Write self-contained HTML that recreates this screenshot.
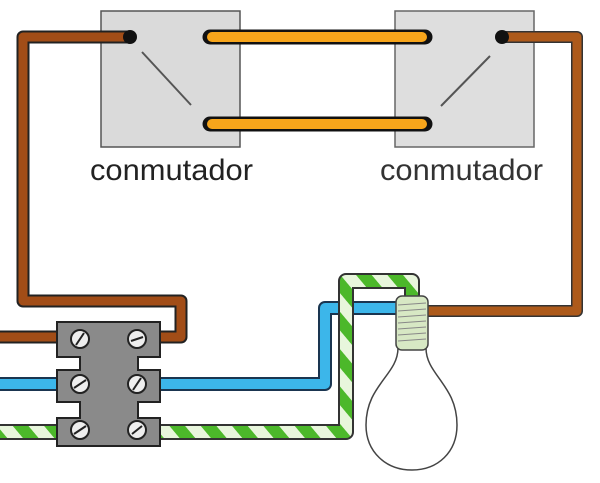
<!DOCTYPE html>
<html><head><style>body{margin:0;background:#fff}svg{display:block}</style></head>
<body>
<svg width="600" height="483" viewBox="0 0 600 483" xmlns="http://www.w3.org/2000/svg">
<defs>
<pattern id="st" width="24" height="24" patternUnits="userSpaceOnUse" patternTransform="rotate(-40)">
<rect width="24" height="24" fill="#e8f6dc"/><rect width="12" height="24" fill="#4cb82a"/>
</pattern>
</defs>
<!-- switch boxes -->
<rect x="101" y="11" width="139" height="136" fill="#dadada" stroke="#555" stroke-width="1.5"/>
<rect x="395" y="11" width="139" height="136" fill="#dedede" stroke="#666" stroke-width="1.5"/>
<line x1="142" y1="52" x2="191" y2="105" stroke="#555" stroke-width="2"/>
<line x1="441" y1="106" x2="490" y2="56" stroke="#555" stroke-width="2"/>
<!-- brown left -->
<path d="M130 37 H23 V301 H181 V337 H160" fill="none" stroke="#222" stroke-width="13" stroke-linejoin="round"/>
<path d="M130 37 H23 V301 H181 V337 H160" fill="none" stroke="#a24d17" stroke-width="9" stroke-linejoin="round"/>
<path d="M0 337 H60" stroke="#222" stroke-width="13"/><path d="M0 337 H60" stroke="#a24d17" stroke-width="9"/>
<!-- brown right -->
<path d="M502 37 H577 V311 H425" fill="none" stroke="#333" stroke-width="12" stroke-linejoin="round"/>
<path d="M502 37 H577 V311 H425" fill="none" stroke="#ad5a1b" stroke-width="9" stroke-linejoin="round"/>
<!-- orange -->
<g stroke-linecap="round">
<path d="M210 37 H425" stroke="#111" stroke-width="15"/><path d="M212 37 H422" stroke="#f7a51b" stroke-width="10"/>
<path d="M210 124 H425" stroke="#111" stroke-width="15"/><path d="M212 124 H422" stroke="#f7a51b" stroke-width="10"/>
<circle cx="130" cy="37" r="7" fill="#111"/><circle cx="502" cy="37" r="7" fill="#111"/>
</g>
<!-- blue -->
<path d="M0 384 H60 M160 384 H325 V308 H400" fill="none" stroke="#1a3550" stroke-width="14" stroke-linejoin="round"/>
<path d="M0 384 H60 M160 384 H325 V308 H400" fill="none" stroke="#3cb6ea" stroke-width="10" stroke-linejoin="round"/>
<!-- striped -->
<path d="M0 432 H60 M160 432 H346 V281 H412 V298" fill="none" stroke="#333" stroke-width="16" stroke-linejoin="round"/>
<path d="M0 432 H60 M160 432 H346 V281 H412 V298" fill="none" stroke="url(#st)" stroke-width="12" stroke-linejoin="round"/>
<!-- terminal block -->
<path d="M57 322 H160 V357 H138 V370 H160 V402 H138 V418 H160 V446 H57 V418 H80 V402 H57 V370 H80 V357 H57 Z" fill="#8a8a8a" stroke="#222" stroke-width="2"/>
<g fill="#eee" stroke="#222" stroke-width="2">
<circle cx="80" cy="339" r="9"/><circle cx="137" cy="339" r="9"/>
<circle cx="80" cy="384" r="9"/><circle cx="137" cy="384" r="9"/>
<circle cx="80" cy="430" r="9"/><circle cx="137" cy="430" r="9"/>
</g>
<g stroke="#222" stroke-width="2">
<line x1="76" y1="345" x2="84" y2="333"/><line x1="131" y1="341" x2="143" y2="337"/>
<line x1="74" y1="388" x2="86" y2="380"/><line x1="133" y1="390" x2="141" y2="378"/>
<line x1="74" y1="434" x2="86" y2="426"/><line x1="132" y1="434" x2="142" y2="426"/>
</g>
<!-- bulb -->
<path d="M398 348 C398 375 366 385 366 425 C366 452 386 470 412 470 C438 470 457 452 457 425 C457 385 426 375 426 348 Z" fill="#fff" stroke="#444" stroke-width="1.5"/>
<rect x="396" y="296" width="32" height="54" rx="6" fill="#d7e8c4" stroke="#444" stroke-width="1.5"/>
<g stroke="#888" stroke-width="1"><line x1="398" y1="305" x2="426" y2="303"/><line x1="398" y1="311" x2="426" y2="309"/><line x1="398" y1="317" x2="426" y2="315"/><line x1="398" y1="323" x2="426" y2="321"/><line x1="398" y1="329" x2="426" y2="327"/><line x1="398" y1="335" x2="426" y2="333"/><line x1="398" y1="341" x2="426" y2="339"/></g>
<!-- labels -->
<text x="90" y="180" font-family="Liberation Sans, sans-serif" font-size="30" fill="#222" textLength="163" lengthAdjust="spacingAndGlyphs">conmutador</text>
<text x="380" y="180" font-family="Liberation Sans, sans-serif" font-size="30" fill="#333" textLength="163" lengthAdjust="spacingAndGlyphs">conmutador</text>
</svg>
</body></html>
